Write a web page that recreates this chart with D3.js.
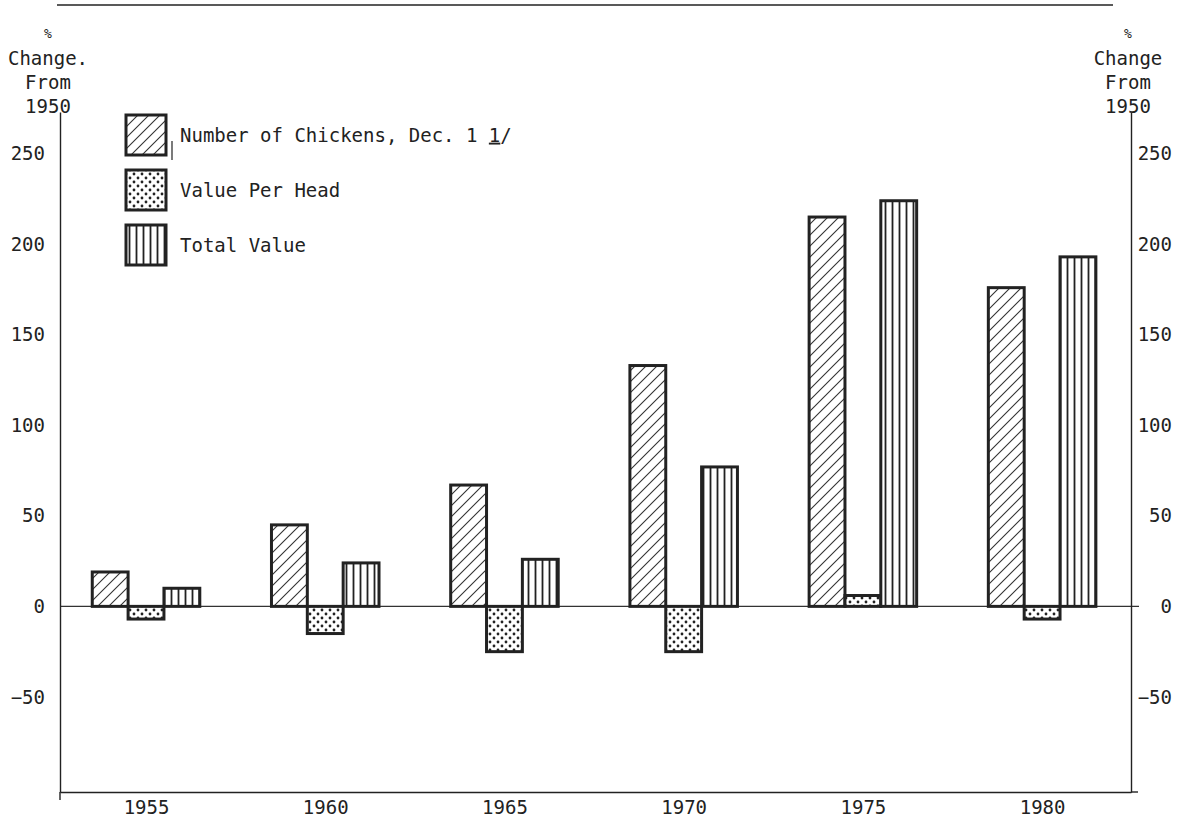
<!DOCTYPE html>
<html><head><meta charset="utf-8">
<script src="https://cdn.jsdelivr.net/npm/d3@7/dist/d3.min.js"></script>
<style>
body{margin:0;background:#fff}
text{font-family:"DejaVu Sans Mono",monospace;fill:#222}
</style></head><body>
<svg id="c" width="1178" height="818"></svg>
<script>
// ---- data ----
const years = [1955, 1960, 1965, 1970, 1975, 1980];
const chickens = [19, 45, 67, 133, 215, 176];
const valuePerHead = [-7, -15, -25, -25, 6, -7];
const totalValue = [10, 24, 26, 77, 224, 193];
const yTicks = [250, 200, 150, 100, 50, 0, -50];
const seriesNames = ["Number of Chickens, Dec. 1 ", "Value Per Head", "Total Value"];
const footnoteMark = "1/";
const axisTitle = ["%", "Change.", "From", "1950"];
const axisTitleRight = ["%", "Change", "From", "1950"];

const svg = d3.select("#c");
const FS = 19;
const x = d3.scaleLinear().domain([1952.6, 1982.48]).range([60, 1131]);
const y = d3.scaleLinear().domain([-102.5, 273]).range([792, 112]);

// patterns
const defs = svg.append("defs");
const ph = defs.append("pattern").attr("id","hatch").attr("patternUnits","userSpaceOnUse").attr("width",11).attr("height",11);
ph.append("rect").attr("width",11).attr("height",11).attr("fill","#fff");
ph.append("path").attr("d","M0,11 L11,0 M-3,3 L3,-3 M8,14 L14,8").attr("stroke","#333").attr("stroke-width",1.1);
const pd = defs.append("pattern").attr("id","dots").attr("patternUnits","userSpaceOnUse").attr("width",8).attr("height",8);
pd.append("rect").attr("width",8).attr("height",8).attr("fill","#fff");
pd.append("circle").attr("cx",2).attr("cy",2).attr("r",1.4).attr("fill","#222");
pd.append("circle").attr("cx",6).attr("cy",6).attr("r",1.4).attr("fill","#222");
const pv = defs.append("pattern").attr("id","vert").attr("patternUnits","userSpaceOnUse").attr("width",7).attr("height",7);
pv.append("rect").attr("width",7).attr("height",7).attr("fill","#fff");
pv.append("line").attr("x1",3.5).attr("x2",3.5).attr("y1",0).attr("y2",7).attr("stroke","#222").attr("stroke-width",1.8);
const fills = ["url(#hatch)","url(#dots)","url(#vert)"];
const series = [chickens, valuePerHead, totalValue];

// top rule
svg.append("line").attr("x1",57).attr("x2",1113).attr("y1",5).attr("y2",5).attr("stroke","#222").attr("stroke-width",1.5);

// zero line
svg.append("line").attr("x1",x.range()[0]).attr("x2",x.range()[1]+8).attr("y1",y(0)).attr("y2",y(0)).attr("stroke","#333").attr("stroke-width",1.2);

// bars: hatched left of the year, dotted centred on it, vertical right of it
series.forEach((vals,si)=>{
  const off = si - 1.5;
  svg.append("g").selectAll("rect").data(years.map((yr,i)=>({yr,v:vals[i]}))).join("rect")
    .attr("x",d=>x(d.yr+off))
    .attr("width",d=>x(d.yr+off+1)-x(d.yr+off))
    .attr("y",d=>y(Math.max(0,d.v)))
    .attr("height",d=>Math.abs(y(d.v)-y(0)))
    .attr("fill",fills[si]).attr("stroke","#222").attr("stroke-width",3);
});

// axes
const gl = svg.append("g").attr("transform",`translate(${x.range()[0]},0)`)
  .call(d3.axisLeft(y).tickValues(yTicks).tickSize(0).tickPadding(15).tickFormat(d3.format("d")));
const gr = svg.append("g").attr("transform",`translate(${x.range()[1]},0)`)
  .call(d3.axisRight(y).tickValues(yTicks).tickSize(0).tickPadding(6).tickFormat(d3.format("d")));
gr.selectAll(".tick text").attr("text-anchor","end").attr("x",41);
const gb = svg.append("g").attr("transform",`translate(0,${y.range()[0]})`)
  .call(d3.axisBottom(x).tickValues(years).tickSize(0).tickPadding(9).tickFormat(d3.format("d")));
[gl,gr,gb].forEach(g=>{
  g.select(".domain").attr("stroke","#222").attr("stroke-width",1.4);
  g.selectAll("text").attr("font-size",FS).style("font-family","DejaVu Sans Mono").attr("fill","#222");
});
// bottom rule slightly beyond right axis
svg.append("line").attr("x1",x.range()[1]).attr("x2",x.range()[1]+7).attr("y1",y.range()[0]).attr("y2",y.range()[0]).attr("stroke","#222").attr("stroke-width",1.4);
svg.append("line").attr("x1",x.range()[0]).attr("x2",x.range()[0]).attr("y1",y.range()[0]).attr("y2",y.range()[0]+8).attr("stroke","#222").attr("stroke-width",1.4);

// axis titles
const ty = [33, 58, 82, 106];
axisTitle.forEach((t,i)=>svg.append("text").attr("x",48).attr("y",ty[i]).attr("dy","0.35em").attr("text-anchor","middle").attr("font-size",i==0?13:FS).text(t));
axisTitleRight.forEach((t,i)=>svg.append("text").attr("x",1128).attr("y",ty[i]).attr("dy","0.35em").attr("text-anchor","middle").attr("font-size",i==0?13:FS).text(t));

// legend
const leg = svg.append("g");
seriesNames.forEach((n,i)=>{
  const cy = 135 + i*55;
  leg.append("rect").attr("x",126).attr("y",cy-20).attr("width",40).attr("height",40)
    .attr("fill",fills[i]).attr("stroke","#222").attr("stroke-width",3);
  const t = leg.append("text").attr("x",180).attr("y",cy).attr("dy","0.35em").attr("font-size",FS).text(n);
  if(i===0){
    t.append("tspan").attr("text-decoration","underline").text(footnoteMark[0]);
    t.append("tspan").text(footnoteMark.slice(1));
  }
});
leg.append("line").attr("x1",172).attr("x2",172).attr("y1",141).attr("y2",160).attr("stroke","#222").attr("stroke-width",1.2);
</script>
</body></html>
